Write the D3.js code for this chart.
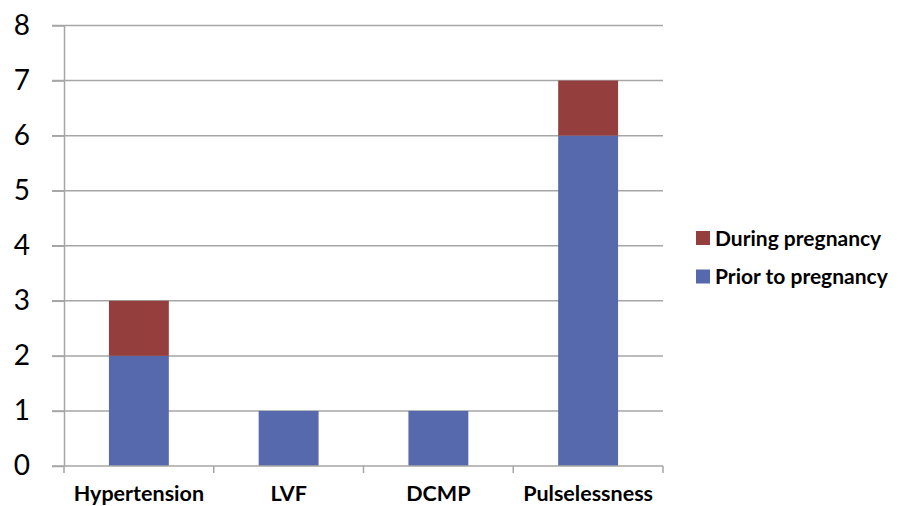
<!DOCTYPE html>
<html><head><meta charset="utf-8">
<script src="https://cdn.jsdelivr.net/npm/d3@7/dist/d3.min.js"></script>
<style>body{margin:0;background:#fff;} svg{display:block;}</style>
</head><body>
<svg id="c" width="900" height="506"></svg>
<script>
const categories = ["Hypertension", "LVF", "DCMP", "Pulselessness"];
const priorToPregnancy = [2, 1, 1, 6];
const duringPregnancy = [1, 0, 0, 1];
const yTicks = [0, 1, 2, 3, 4, 5, 6, 7, 8];
const seriesNames = ["Prior to pregnancy", "During pregnancy"];
const seriesColors = ["#5569AC", "#943F3D"];

(function () {
const svg = d3.select("#c");
const pLeft = 64, pRight = 663, pTop = 25.5, pBottom = 466;
const x = d3.scaleBand().domain(categories).range([pLeft, pRight]).paddingInner(0.6).paddingOuter(0.3);
const y = d3.scaleLinear().domain([0, 8]).range([pBottom, pTop]);
const font = "Lato, 'Open Sans', sans-serif";

// gridlines
svg.append("g").selectAll("line").data(yTicks.filter(d => d > 0)).join("line")
  .attr("x1", pLeft - 12).attr("x2", pRight).attr("y1", d => y(d)).attr("y2", d => y(d))
  .attr("stroke", "#A6A6A6").attr("stroke-width", 1.5);

// stacked data
const table = categories.map((c, i) => ({cat: c, prior: priorToPregnancy[i], during: duringPregnancy[i]}));
const stack = d3.stack().keys(["prior", "during"])(table);
svg.append("g").selectAll("g").data(stack).join("g")
  .attr("fill", (d, i) => seriesColors[i])
  .selectAll("rect").data(d => d.filter(p => p[1] > p[0])).join("rect")
  .attr("x", d => x(d.data.cat)).attr("width", x.bandwidth())
  .attr("y", d => y(d[1])).attr("height", d => y(d[0]) - y(d[1]));

// y axis
const yAxis = d3.axisLeft(y).tickValues(yTicks).tickSize(12).tickSizeOuter(0).tickPadding(22);
const gy = svg.append("g").attr("transform", `translate(${pLeft},0)`).call(yAxis);
gy.select(".domain").attr("stroke", "#A6A6A6").attr("stroke-width", 1.5);
gy.selectAll(".tick line").attr("stroke", "#A6A6A6").attr("stroke-width", 1.5);
gy.selectAll(".tick text").attr("font-family", font).attr("font-size", 28).attr("fill", "#000");

// x axis
const xBoundaries = d3.range(categories.length + 1).map(i => pLeft + i * (pRight - pLeft) / categories.length);
const gx = svg.append("g");
gx.append("line").attr("x1", pLeft - 12).attr("x2", pRight).attr("y1", pBottom).attr("y2", pBottom)
  .attr("stroke", "#A6A6A6").attr("stroke-width", 1.5);
gx.selectAll("line.t").data(xBoundaries).join("line").attr("class", "t")
  .attr("x1", d => d).attr("x2", d => d).attr("y1", pBottom).attr("y2", pBottom + 7)
  .attr("stroke", "#A6A6A6").attr("stroke-width", 1.5);
gx.selectAll("text").data(categories).join("text")
  .attr("x", d => x(d) + x.bandwidth() / 2).attr("y", 501)
  .attr("text-anchor", "middle").attr("font-family", font).attr("font-weight", "bold")
  .attr("font-size", 21.5).attr("fill", "#000").text(d => d);

// legend
const legendItems = [{name: seriesNames[1], color: seriesColors[1]}, {name: seriesNames[0], color: seriesColors[0]}];
const lg = svg.append("g").attr("transform", "translate(696,231)");
legendItems.forEach((it, i) => {
  const g = lg.append("g").attr("transform", `translate(0,${i * 38.5})`);
  g.append("rect").attr("width", 14).attr("height", 14).attr("fill", it.color);
  g.append("text").attr("x", 19).attr("y", 14.5).attr("font-family", font).attr("font-weight", "bold")
    .attr("font-size", 21).attr("fill", "#000").text(it.name);
});
})();
</script>
</body></html>
